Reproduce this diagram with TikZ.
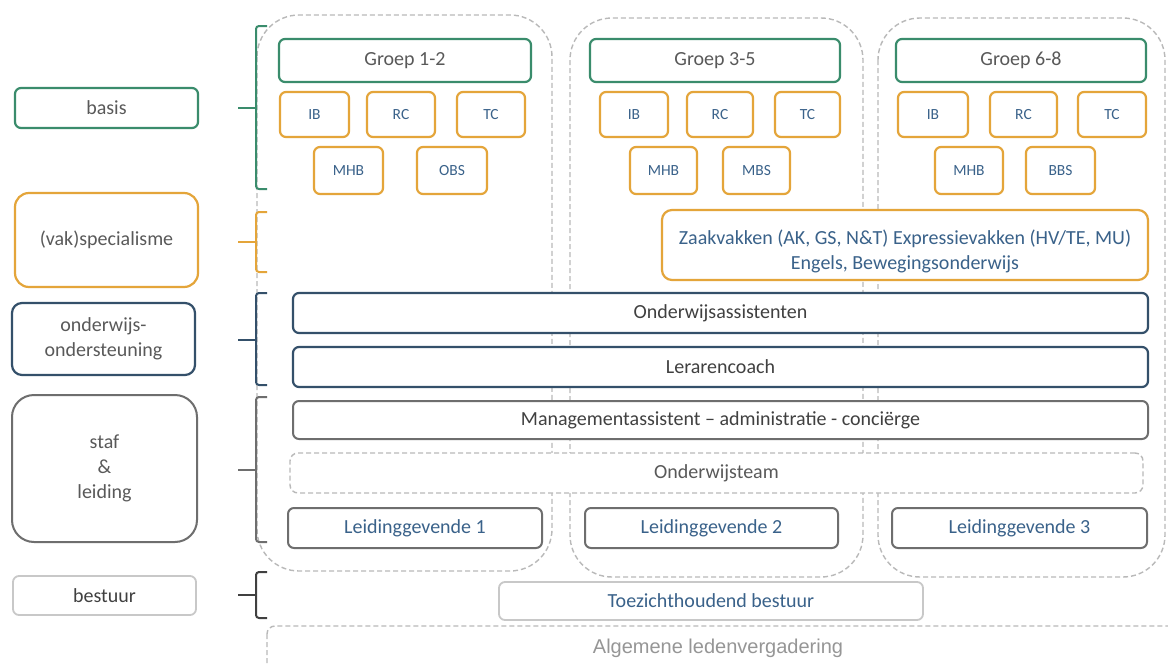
\documentclass[tikz,border=0pt]{standalone}
\usepackage{fontspec}
\setmainfont{Carlito}
\newfontfamily\arialfont{Liberation Sans}
\definecolor{cgreen}{RGB}{58,140,108}
\definecolor{corange}{RGB}{228,165,58}
\definecolor{cblue}{RGB}{52,80,106}
\definecolor{cgray}{RGB}{110,110,110}
\definecolor{clight}{RGB}{200,200,200}
\definecolor{cdash}{RGB}{185,185,185}
\definecolor{tgray}{RGB}{89,89,89}
\definecolor{tdark}{RGB}{64,64,64}
\definecolor{tblue}{RGB}{58,98,138}
\definecolor{tlight}{RGB}{150,150,150}
\newcommand\bigf{\fontsize{20}{25}\selectfont}
\newcommand\smallf{\fontsize{15.5}{18}\selectfont}
\newcommand\bx[7]{\node[#2, minimum width={(#5-#3)*1pt}, minimum height={(#6-#4)*1pt}] (#1) at ({(#3+#5)/2},{(#4+#6)/2}) {#7};}
\tikzset{
  base/.style={draw, fill=white, inner sep=0pt, align=center, rounded corners=6pt, line width=2.2pt, font=\bigf},
  grn/.style={base, draw=cgreen, text=tgray},
  org/.style={base, draw=corange, text=tblue},
  sml/.style={org, font=\smallf},
  blu/.style={base, draw=cblue, text=tdark},
  gry/.style={base, draw=cgray, text=tdark},
  lgt/.style={base, draw=clight, line width=1.8pt, text=tdark},
  dsh/.style={draw=cdash, line width=1.4pt, dash pattern=on 5pt off 3pt},
  col/.style={dsh, rounded corners=42pt},
  brc/.style={line width=2pt, rounded corners=3pt},
}
\begin{document}
\begin{tikzpicture}[x=1pt,y=-1pt]
\path[use as bounding box, fill=white] (0,0) rectangle (1168,664);
% columns
\draw[col] (257,15) rectangle (552,571);
\draw[col] (570,18) rectangle (863,577);
\draw[col] (878,18) rectangle (1165,577);
% algemene ledenvergadering
\draw[dsh, rounded corners=8pt] (267,626) rectangle (1190,720);
\node[font=\arialfont\fontsize{20}{24}\selectfont, text=tlight, inner sep=0pt] (alv) at (718,648) {Algemene ledenvergadering};
% left labels
\bx{basis}{grn}{15}{88}{198}{128}{basis}
\bx{vak}{org, rounded corners=14pt, text=tgray}{15}{193}{198}{287}{(vak)specialisme}
\bx{ond}{blu, rounded corners=10pt, text=tgray}{12}{303}{195}{375}{onderwijs-\\ondersteuning}
\bx{staf}{gry, rounded corners=22pt, line width=2pt, text=tgray}{12}{395}{197}{542}{staf\\\&\\leiding}
\bx{best}{lgt}{13}{576}{196}{615}{bestuur}
% braces
\draw[brc, cgreen] (267,26) -- (256,26) -- (256,189) -- (267,189);
\draw[brc, cgreen] (238,108) -- (256,108);
\draw[brc, corange] (267,212) -- (256,212) -- (256,272) -- (267,272);
\draw[brc, corange] (238,242) -- (256,242);
\draw[brc, cblue] (267,293) -- (256,293) -- (256,385) -- (267,385);
\draw[brc, cblue] (238,340) -- (256,340);
\draw[brc, cgray] (267,397) -- (256,397) -- (256,542) -- (267,542);
\draw[brc, cgray] (238,470) -- (256,470);
\draw[brc, tdark] (267,572) -- (256,572) -- (256,618) -- (267,618);
\draw[brc, tdark] (238,595) -- (256,595);
% groups
\bx{g12}{grn}{279}{39}{531}{82}{Groep 1-2}
\bx{g35}{grn}{590}{39}{840}{82}{Groep 3-5}
\bx{g68}{grn}{896}{39}{1146}{82}{Groep 6-8}
% small boxes row 1
\bx{ib1}{sml}{280}{92}{349}{137}{IB}
\bx{rc1}{sml}{367}{92}{435}{137}{RC}
\bx{tc1}{sml}{457}{92}{525}{137}{TC}
\bx{ib2}{sml}{600}{92}{668}{137}{IB}
\bx{rc2}{sml}{687}{92}{753}{137}{RC}
\bx{tc2}{sml}{775}{92}{840}{137}{TC}
\bx{ib3}{sml}{898}{92}{968}{137}{IB}
\bx{rc3}{sml}{990}{92}{1057}{137}{RC}
\bx{tc3}{sml}{1078}{92}{1146}{137}{TC}
% small boxes row 2
\bx{mhb1}{sml}{314}{147}{383}{194}{MHB}
\bx{obs1}{sml}{417}{147}{487}{194}{OBS}
\bx{mhb2}{sml}{630}{147}{697}{194}{MHB}
\bx{mbs2}{sml}{723}{147}{790}{194}{MBS}
\bx{mhb3}{sml}{935}{147}{1003}{194}{MHB}
\bx{bbs3}{sml}{1026}{147}{1095}{194}{BBS}
% wide boxes
\bx{zaak}{org, rounded corners=10pt}{662}{210}{1148}{280}{}
\node[font=\bigf, text=tblue, align=center, inner sep=0pt] (zaaktxt) at ([yshift=-6pt]zaak.center) {Zaakvakken (AK, GS, N\&T) Expressievakken (HV/TE, MU)\\Engels, Bewegingsonderwijs};
\bx{oa}{blu}{293}{293}{1148}{333}{Onderwijsassistenten}
\bx{lc}{blu}{293}{347}{1148}{387}{Lerarencoach}
\bx{ma}{gry, line width=2pt}{293}{401}{1148}{439}{Managementassistent – administratie - conciërge}
\node[dsh, fill=white, rounded corners=8pt, inner sep=0pt, minimum width=853pt, minimum height=40pt, font=\bigf, text=tgray] (ot) at (716.5,473) {Onderwijsteam};
\bx{l1}{gry, line width=2pt, text=tblue}{288}{508}{542}{548}{Leidinggevende 1}
\bx{l2}{gry, line width=2pt, text=tblue}{585}{508}{838}{548}{Leidinggevende 2}
\bx{l3}{gry, line width=2pt, text=tblue}{892}{508}{1147}{548}{Leidinggevende 3}
\bx{tz}{lgt, text=tblue}{499}{582}{923}{620}{Toezichthoudend bestuur}
\end{tikzpicture}
\end{document}
